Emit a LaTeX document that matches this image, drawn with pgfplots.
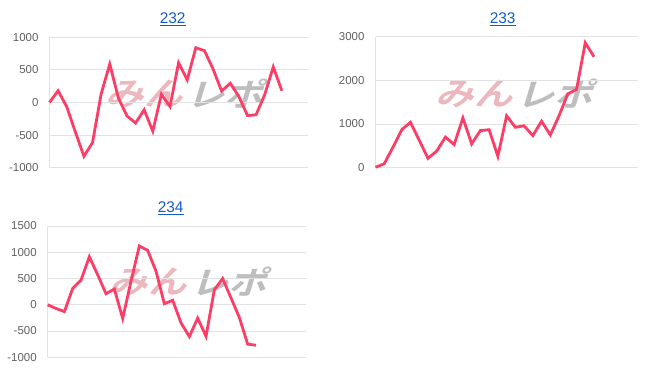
\documentclass[border=0pt]{standalone}
\usepackage{pgfplots}
\pgfplotsset{compat=1.18}
\usepackage{fontspec}
\setmainfont{Liberation Sans}
\newfontfamily\cjk{Noto Sans CJK JP Bold}
\definecolor{linec}{RGB}{252,62,102}
\definecolor{gridc}{RGB}{226,226,226}
\definecolor{zeroc}{RGB}{172,172,172}
\definecolor{tickc}{RGB}{96,96,96}
\definecolor{titlec}{RGB}{22,92,196}
\definecolor{wmred}{RGB}{236,184,190}
\definecolor{wmgray}{RGB}{190,190,190}
\pgfplotsset{
  panel/.style={
    scale only axis, anchor=south west,
    xmin=0, xmax=30,
    xtick={0}, xticklabels={},
    xmajorgrids, ymajorgrids,
    major grid style={draw=gridc, line width=0.9bp},
    axis line style={draw=none},
    major tick length=0pt,
    tick style={draw=none},
    yticklabel style={font=\fontsize{11.5}{13}\selectfont, text=tickc, anchor=east, xshift=-7.5bp},
    extra y ticks={0}, extra y tick labels={},
    extra y tick style={grid style={draw=zeroc, line width=0.9bp}},
    clip=false,
  },
  dline/.style={draw=linec, line width=2.8bp, line join=miter, no markers},
}
\begin{document}
\begin{tikzpicture}
\useasboundingbox (0bp,0bp) rectangle (663bp,370bp);
% watermarks
\foreach \cx/\cy in {188/276, 518/276, 192/88}{
  \node[text=wmred, font=\cjk\fontsize{32}{32}\selectfont, xslant=0.3, xscale=1.2, anchor=east, inner sep=0] at (\cx bp-2bp,\cy bp) {みん};
  \node[text=wmgray, font=\cjk\fontsize{32}{32}\selectfont, xslant=0.3, xscale=1.2, anchor=west, inner sep=0] at (\cx bp+2bp,\cy bp) {レポ};
}
% titles
\node[text=titlec, font=\fontsize{15.5}{17}\selectfont] at (172.7bp,351bp) {\underline{232}};
\node[text=titlec, font=\fontsize{15.5}{17}\selectfont] at (502.7bp,351bp) {\underline{233}};
\node[text=titlec, font=\fontsize{15.5}{17}\selectfont] at (170.7bp,162bp) {\underline{234}};

\begin{axis}[panel, at={(49.5bp,202.3bp)}, width=258.2bp, height=130.4bp,
  ymin=-1000, ymax=1000, ytick={-1000,-500,0,500,1000},
  yticklabels={-1000,-500,0,500,1000}]
\addplot[dline] coordinates {
(0,0) (1,180) (2,-65) (3,-450) (4,-825) (5,-615) (6,130) (7,590) (8,70) (9,-205)
(10,-315) (11,-112) (12,-440) (13,125) (14,-60) (15,610) (16,345) (17,840) (18,795) (19,515)
(20,175) (21,295) (22,92) (23,-200) (24,-188) (25,118) (26,545) (27,180)};
\end{axis}

\begin{axis}[panel, at={(375.5bp,202.3bp)}, width=262.2bp, height=131bp,
  ymin=0, ymax=3000, ytick={0,1000,2000,3000},
  yticklabels={0,1000,2000,3000}]
\addplot[dline] coordinates {
(0,10) (1,90) (2,470) (3,870) (4,1040) (5,630) (6,215) (7,380) (8,700) (9,530)
(10,1140) (11,545) (12,850) (13,870) (14,260) (15,1190) (16,925) (17,960) (18,735) (19,1065)
(20,750) (21,1190) (22,1690) (23,1790) (24,2860) (25,2540)};
\end{axis}

\begin{axis}[panel, at={(47.7bp,12.7bp)}, width=258.3bp, height=131.3bp, xmax=31,
  ymin=-1000, ymax=1500, ytick={-1000,-500,0,500,1000,1500},
  yticklabels={-1000,-500,0,500,1000,1500}]
\addplot[dline] coordinates {
(0,0) (1,-70) (2,-130) (3,310) (4,470) (5,915) (6,570) (7,210) (8,300) (9,-260)
(10,450) (11,1120) (12,1035) (13,640) (14,20) (15,85) (16,-345) (17,-605) (18,-255) (19,-600)
(20,285) (21,500) (22,130) (23,-240) (24,-750) (25,-770)};
\end{axis}
\end{tikzpicture}
\end{document}
